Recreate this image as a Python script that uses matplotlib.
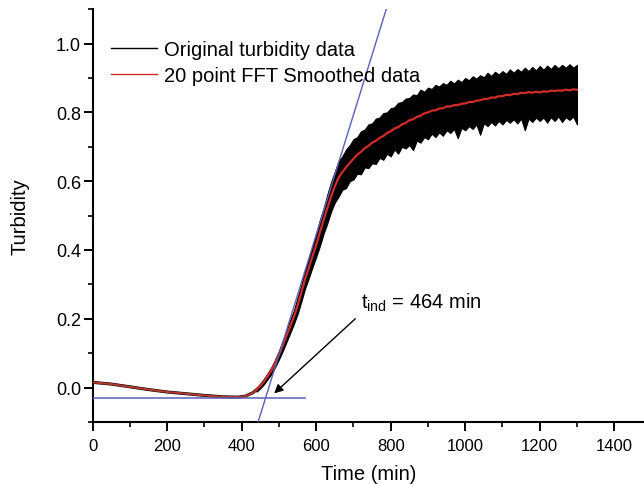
import matplotlib
matplotlib.use("Agg")
import matplotlib.pyplot as plt
from matplotlib.ticker import MultipleLocator

plt.rcParams['font.family'] = ['Liberation Sans', 'DejaVu Sans']

# ---- flat (pre-induction) region: original and smoothed curves coincide ----
flat_t = [0, 50, 100, 150, 200, 250, 300, 350, 390, 410, 430, 440]
flat_v = [0.015, 0.010, 0.002, -0.006, -0.013, -0.018, -0.023, -0.027, -0.028,
          -0.025, -0.015, -0.006]

# ---- growth region, sampled every 10 min ----
grow_t = [440, 450, 460, 470, 480, 490, 500, 510, 520, 530, 540, 550, 560, 570, 580,
          590, 600, 610, 620, 630, 640, 650, 660, 670, 680, 690, 700, 710, 720, 730,
          740, 750, 760, 770, 780, 790, 800, 810, 820, 830, 840, 850, 860, 870, 880,
          890, 900, 910, 920, 930, 940, 950, 960, 970, 980, 990, 1000, 1010, 1020,
          1030, 1040, 1050, 1060, 1070, 1080, 1090, 1100, 1110, 1120, 1130, 1140, 1150,
          1160, 1170, 1180, 1190, 1200, 1210, 1220, 1230, 1240, 1250, 1260, 1270, 1280,
          1290, 1300]
# 20 point FFT smoothed data
smooth_v = [-0.006, 0.005, 0.018, 0.034, 0.050, 0.072, 0.095, 0.122, 0.150, 0.178,
            0.205, 0.238, 0.276, 0.315, 0.348, 0.382, 0.415, 0.452, 0.488, 0.522, 0.555,
            0.585, 0.610, 0.626, 0.640, 0.653, 0.665, 0.677, 0.685, 0.696, 0.702, 0.712,
            0.717, 0.726, 0.731, 0.740, 0.745, 0.753, 0.757, 0.765, 0.769, 0.777, 0.780,
            0.787, 0.790, 0.797, 0.800, 0.805, 0.806, 0.811, 0.812, 0.817, 0.817, 0.821,
            0.821, 0.825, 0.826, 0.830, 0.830, 0.834, 0.835, 0.839, 0.839, 0.843, 0.843,
            0.847, 0.847, 0.851, 0.850, 0.854, 0.853, 0.857, 0.856, 0.859, 0.857, 0.860,
            0.858, 0.861, 0.860, 0.863, 0.862, 0.864, 0.863, 0.866, 0.864, 0.867, 0.866]
# original turbidity data: upper and lower extent of the noisy trace
orig_upper = [0.000, 0.012, 0.026, 0.042, 0.060, 0.082, 0.107, 0.136, 0.165, 0.196,
              0.224, 0.262, 0.298, 0.342, 0.372, 0.412, 0.448, 0.488, 0.522, 0.562,
              0.598, 0.628, 0.658, 0.672, 0.692, 0.705, 0.722, 0.728, 0.745, 0.750,
              0.765, 0.768, 0.782, 0.785, 0.798, 0.800, 0.812, 0.815, 0.828, 0.830,
              0.840, 0.842, 0.852, 0.850, 0.866, 0.860, 0.872, 0.868, 0.880, 0.875,
              0.885, 0.880, 0.892, 0.884, 0.895, 0.888, 0.900, 0.893, 0.905, 0.898,
              0.908, 0.902, 0.915, 0.906, 0.918, 0.910, 0.920, 0.912, 0.925, 0.915,
              0.926, 0.918, 0.930, 0.920, 0.932, 0.922, 0.935, 0.924, 0.936, 0.926,
              0.938, 0.928, 0.938, 0.930, 0.940, 0.930, 0.938]
orig_lower = [-0.012, -0.002, 0.010, 0.025, 0.040, 0.060, 0.082, 0.106, 0.132, 0.158,
              0.185, 0.214, 0.250, 0.288, 0.318, 0.350, 0.380, 0.412, 0.448, 0.478,
              0.512, 0.538, 0.555, 0.575, 0.580, 0.600, 0.605, 0.622, 0.620, 0.640,
              0.638, 0.652, 0.650, 0.668, 0.662, 0.680, 0.672, 0.692, 0.680, 0.700,
              0.695, 0.705, 0.690, 0.718, 0.712, 0.728, 0.722, 0.738, 0.728, 0.742,
              0.732, 0.748, 0.740, 0.752, 0.725, 0.755, 0.748, 0.760, 0.752, 0.765,
              0.735, 0.768, 0.760, 0.772, 0.762, 0.775, 0.765, 0.778, 0.770, 0.780,
              0.768, 0.782, 0.748, 0.782, 0.772, 0.785, 0.775, 0.785, 0.770, 0.786,
              0.775, 0.788, 0.772, 0.786, 0.778, 0.788, 0.765]

# baseline and tangent lines
baseline_t = [0, 571]
baseline_v = [-0.030, -0.030]
tangent_t = [444, 788]
tangent_v = [-0.10, 1.10]

t_ind = 464
arrow_tip = (487, -0.017)
arrow_start = (705, 0.20)
label_pos = (721, 0.25)

fig = plt.figure(figsize=(6.44, 4.85), dpi=100)
ax = fig.add_axes([0.144, 0.128, 0.856, 0.851])

blue = '#5b5fb5'
red = '#d02c2a'
ax.plot(flat_t, flat_v, color='black', lw=2.2, zorder=2)
ax.fill_between(grow_t, orig_lower, orig_upper, color='black', linewidth=0.8,
                edgecolor='black', zorder=2)
ax.plot(flat_t, flat_v, color='#b2392e', lw=1.5, zorder=3)
ax.plot(grow_t, smooth_v, color=red, lw=1.6, zorder=3)
ax.plot(baseline_t, baseline_v, color=blue, lw=1.1, zorder=4)
ax.plot(tangent_t, tangent_v, color=blue, lw=1.0, zorder=4)

# legend proxies
h1, = ax.plot([], [], color='black', lw=1.0, label='Original turbidity data')
h2, = ax.plot([], [], color=red, lw=1.0, label='20 point FFT Smoothed data')
fig.legend(handles=[h1, h2], loc='upper left', bbox_to_anchor=(0.172, 0.915),
           frameon=False, fontsize=14.5, handlelength=2.3, handletextpad=0.35,
           labelspacing=0.35, borderpad=0, borderaxespad=0)

ax.annotate('', xy=arrow_tip, xytext=arrow_start,
            arrowprops=dict(arrowstyle='-|>', color='black', lw=1.0, mutation_scale=13,
                            shrinkA=0, shrinkB=0), zorder=5)
ax.text(label_pos[0], label_pos[1], r'$\mathregular{t_{ind}}$ = %d min' % t_ind,
        fontsize=14.5, va='center', ha='left')

ax.set_xlim(0, 1480)
ax.set_ylim(-0.1, 1.1)
ax.xaxis.set_major_locator(MultipleLocator(200))
ax.xaxis.set_minor_locator(MultipleLocator(100))
ax.yaxis.set_minor_locator(MultipleLocator(0.1))
ax.set_yticks([0.0, 0.2, 0.4, 0.6, 0.8, 1.0])
ax.set_yticklabels(['0.0', '0.2', '0.4', '0.6', '0.8', '1.0'])

for s in ['top', 'right']:
    ax.spines[s].set_visible(False)
for s in ['left', 'bottom']:
    ax.spines[s].set_linewidth(1.5)

ax.tick_params(which='major', direction='out', length=6.5, width=1.4)
ax.tick_params(which='minor', direction='out', length=3.5, width=1.2)
ax.tick_params(axis='y', which='major', pad=2, labelsize=13)
ax.tick_params(axis='x', which='major', pad=5, labelsize=12)

ax.set_xlabel('Time (min)', fontsize=14.5, labelpad=8)
ax.set_ylabel('Turbidity', fontsize=14.5, labelpad=19)

fig.savefig('out.png', dpi=100)
